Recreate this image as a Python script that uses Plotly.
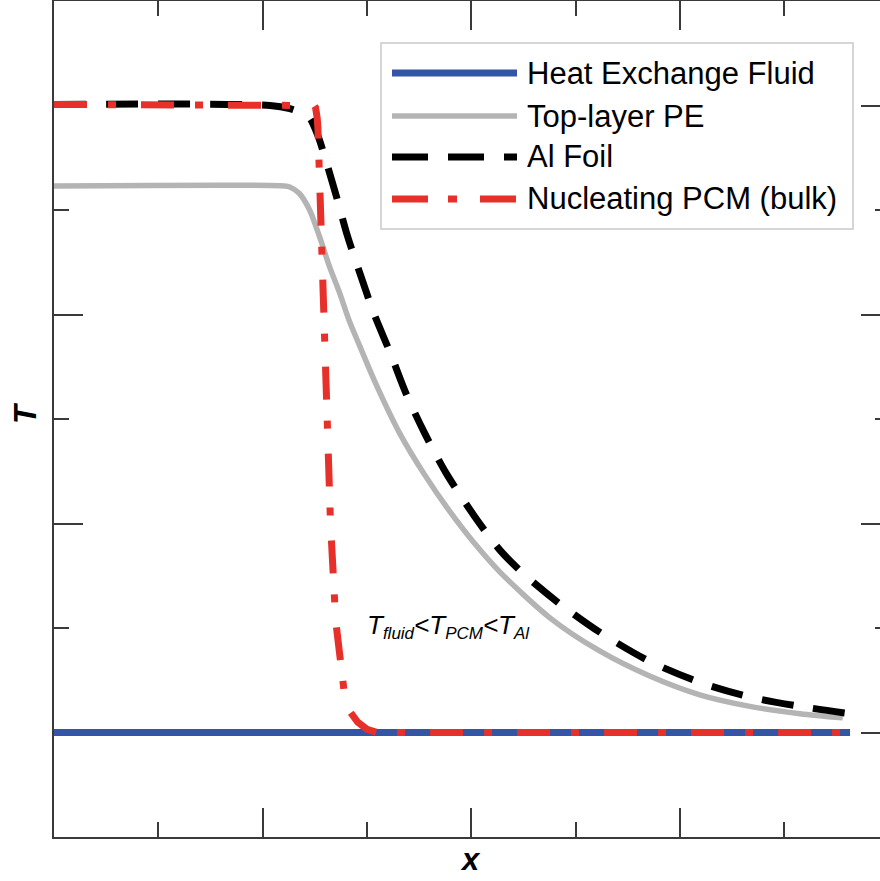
import plotly.graph_objects as go

# ---------------- data ----------------
fluid_x = [0.0, 7.63]
fluid_T = [1.0, 1.0]

pe_x = [0.0, 2.21, 2.26, 2.35, 2.45, 2.55, 2.64, 2.74, 2.83, 2.93, 3.07, 3.31,
        3.55, 3.79, 4.03, 4.27, 4.75, 5.23, 5.71, 6.19, 6.67, 7.15, 7.56]
pe_T = [6.23, 6.23, 6.22, 6.16, 6.00, 5.73, 5.46, 5.20, 4.94, 4.70, 4.37, 3.87,
        3.47, 3.12, 2.81, 2.54, 2.10, 1.78, 1.54, 1.36, 1.25, 1.18, 1.14]

al_x = [0.0, 2.07, 2.26, 2.37, 2.45, 2.53, 2.61, 2.71, 2.81, 2.93, 3.07, 3.22,
        3.38, 3.55, 3.76, 4.03, 4.27, 4.51, 4.85, 5.23, 5.71, 6.19, 6.67, 7.15, 7.63]
al_T = [7.01, 7.00, 6.97, 6.93, 6.88, 6.71, 6.46, 6.12, 5.76, 5.40, 5.00, 4.64,
        4.23, 3.87, 3.48, 3.07, 2.75, 2.51, 2.23, 1.96, 1.68, 1.48, 1.34, 1.25, 1.18]

pcm_x = [0.0, 2.48, 2.495, 2.507, 2.516, 2.523, 2.53, 2.54, 2.56, 2.59, 2.61, 2.65,
         2.70, 2.74, 2.78, 2.83, 2.91, 3.00, 3.10, 7.63]
pcm_T = [7.01, 7.01, 7.00, 6.98, 6.94, 6.88, 6.78, 6.47, 5.61, 4.77, 4.01, 3.01,
         2.07, 1.69, 1.40, 1.21, 1.10, 1.03, 1.00, 1.00]

series_names = ["Heat Exchange Fluid", "Top-layer PE", "Al Foil", "Nucleating PCM (bulk)"]
x_title = "x"
y_title = "T"

# ---------------- styling ----------------
W, H = 880, 881
ML, MT, MB = 54, 1, 44
PW, PH = W - ML, H - MT - MB
FONT = "Arial, Liberation Sans, sans-serif"
AXC = "#3a3a3a"

BLUE = "#3455a5"
GRAY = "#b4b4b4"
BLACK = "#000000"
RED = "#e8302a"
DASH_AL = "32px,20px"
DASH_PCM = "33px,21px,8px,25px"


def px2paper(px, py):
    return (px - ML) / PW, (MT + PH - py) / PH


fig = go.Figure()
fig.add_trace(go.Scatter(x=fluid_x, y=fluid_T, mode="lines", name=series_names[0],
                         line=dict(color=BLUE, width=7)))
fig.add_trace(go.Scatter(x=pe_x, y=pe_T, mode="lines", name=series_names[1],
                         line=dict(color=GRAY, width=5.5, shape="spline", smoothing=0.8)))
fig.add_trace(go.Scatter(x=al_x, y=al_T, mode="lines", name=series_names[2],
                         line=dict(color=BLACK, width=7, dash=DASH_AL, shape="spline", smoothing=0.8)))
fig.add_trace(go.Scatter(x=pcm_x, y=pcm_T, mode="lines", name=series_names[3],
                         line=dict(color=RED, width=7, dash=DASH_PCM)))
# transparent copy on the right-hand axis so that its (tick-only) axis gets drawn
fig.add_trace(go.Scatter(x=fluid_x, y=fluid_T, mode="lines", yaxis="y2", opacity=0,
                         line=dict(color=BLUE, width=0.1), hoverinfo="skip", showlegend=False))

# ---------------- custom legend (long line samples as in the reference) ----------------
shapes = []
annotations = []
lx0, ly0 = px2paper(381, 43)
lx1, ly1 = px2paper(853, 229)
shapes.append(dict(type="rect", xref="paper", yref="paper", x0=lx0, y0=ly1, x1=lx1, y1=ly0,
                   line=dict(color="#c9c9c9", width=1.5), fillcolor="white", layer="above"))
leg_rows = [73, 116, 157, 199]
leg_styles = [(BLUE, 7, "solid"), (GRAY, 5.5, "solid"), (BLACK, 7, "36px,20px"),
              (RED, 7, "36px,20px,9px,23px")]
for name, row, (c, w, d) in zip(series_names, leg_rows, leg_styles):
    sx0, sy = px2paper(392, row)
    sx1, _ = px2paper(517, row)
    shapes.append(dict(type="line", xref="paper", yref="paper", x0=sx0, x1=sx1, y0=sy, y1=sy,
                       line=dict(color=c, width=w, dash=d), layer="above"))
    tx, _ = px2paper(526, row)
    annotations.append(dict(xref="paper", yref="paper", x=tx, y=sy, text=name, showarrow=False,
                            xanchor="left", yanchor="middle", borderpad=0,
                            font=dict(family=FONT, size=31, color="black")))

# inline label
ax_, ay_ = px2paper(366, 626)
sub = '<sub><span style="font-size:17px">{}</span></sub>'
annotations.append(dict(xref="paper", yref="paper", x=ax_, y=ay_,
                        text="<i>T" + sub.format("fluid") + "&lt;T" + sub.format("PCM")
                             + "&lt;T" + sub.format("Al") + "</i>",
                        showarrow=False, xanchor="left", yanchor="middle", borderpad=0,
                        font=dict(family=FONT, size=26, color="black")))

# axis titles
tx_, ty_ = px2paper(470, 860)
annotations.append(dict(xref="paper", yref="paper", x=tx_, y=ty_, text="<b><i>" + x_title + "</i></b>",
                        showarrow=False, xanchor="center", yanchor="middle",
                        font=dict(family=FONT, size=31, color="black")))
tx_, ty_ = px2paper(25, 413)
annotations.append(dict(xref="paper", yref="paper", x=tx_, y=ty_, text="<b><i>" + y_title + "</i></b>",
                        showarrow=False, xanchor="center", yanchor="middle", textangle=-90,
                        font=dict(family=FONT, size=31, color="black")))

x_range = [0, PW / 104.33]

fig.update_layout(
    width=W, height=H,
    margin=dict(l=ML, r=0, t=MT, b=MB, pad=0),
    paper_bgcolor="white", plot_bgcolor="white",
    showlegend=False,
    shapes=shapes, annotations=annotations,
    xaxis=dict(range=x_range, showgrid=False, zeroline=False, showticklabels=False,
               showline=True, linecolor=AXC, linewidth=1.6, mirror="ticks", layer="below traces",
               ticks="inside", tick0=0, dtick=2, ticklen=29, tickwidth=1.6, tickcolor=AXC,
               minor=dict(ticks="inside", tick0=0, dtick=1, ticklen=15, tickwidth=1.6,
                          tickcolor=AXC, showgrid=False)),
    yaxis=dict(range=[0, 8], showgrid=False, zeroline=False, showticklabels=False,
               showline=True, linecolor=AXC, linewidth=1.6, mirror=False, layer="below traces",
               ticks="inside", tick0=1, dtick=2, ticklen=29, tickwidth=1.6, tickcolor=AXC,
               minor=dict(ticks="inside", tick0=0, dtick=1, ticklen=15, tickwidth=1.6,
                          tickcolor=AXC, showgrid=False)),
    yaxis2=dict(range=[0, 8], overlaying="y", side="right", anchor="x", layer="below traces",
                showgrid=False, zeroline=False, showticklabels=False, showline=False,
                ticks="inside", tick0=1, dtick=2, ticklen=19, tickwidth=1.6, tickcolor=AXC,
                minor=dict(ticks="inside", tick0=0, dtick=1, ticklen=5, tickwidth=1.6,
                           tickcolor=AXC, showgrid=False)),
)

fig.write_html("out.html")
